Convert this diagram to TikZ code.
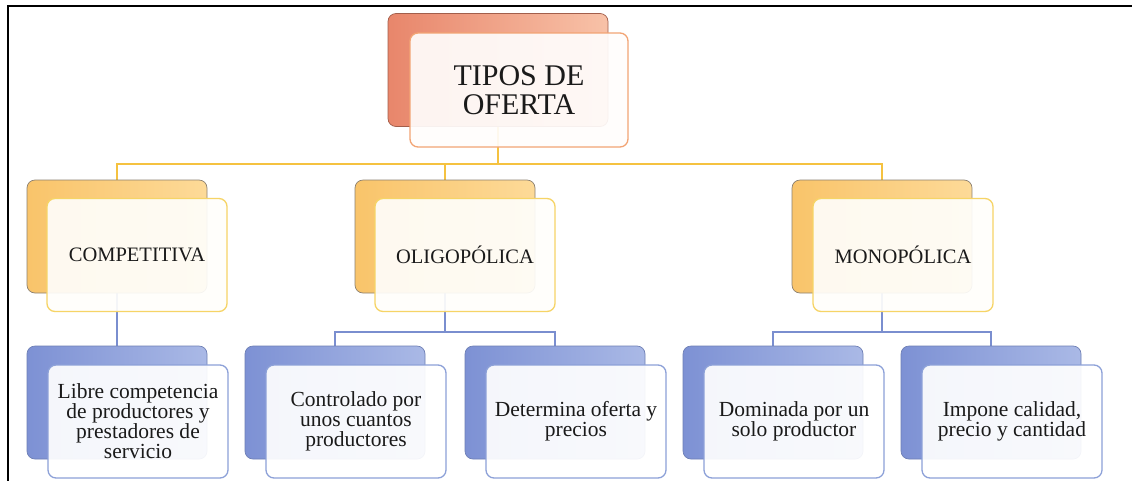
\documentclass[tikz,border=0pt]{standalone}
\usepackage{fontspec}
\setmainfont{Liberation Serif}
\pgfdeclarelayer{bg}
\pgfsetlayers{bg,main}
\definecolor{salmonD}{HTML}{E8866B}
\definecolor{salmonL}{HTML}{F8C2A8}
\definecolor{salmonLine}{HTML}{F2A474}
\definecolor{goldD}{HTML}{F9C46A}
\definecolor{goldL}{HTML}{FDDA98}
\definecolor{goldLine}{HTML}{F6D466}
\definecolor{busGold}{HTML}{F5C240}
\definecolor{blueD}{HTML}{7D91D4}
\definecolor{blueL}{HTML}{AAB9E6}
\definecolor{blueLine}{HTML}{8DA1D8}
\definecolor{busBlue}{HTML}{7A8ECF}
\definecolor{backEdge}{HTML}{8C8070}
\definecolor{backEdgeB}{HTML}{6E7FB5}
\definecolor{txt}{HTML}{1A1A1A}
\tikzset{
  backbox/.style={rectangle, rounded corners=8pt, minimum width=180pt, minimum height=113pt, inner sep=0pt, line width=0.7pt},
  frontbox/.style={rectangle, rounded corners=8pt, minimum width=180pt, minimum height=113pt, inner sep=0pt, line width=1.3pt, fill opacity=0.92, text opacity=1, align=center, text=txt},
  topback/.style={backbox, minimum width=220pt, draw=salmonD!70!black, left color=salmonD, right color=salmonL},
  topfront/.style={frontbox, minimum width=218pt, minimum height=114pt, draw=salmonLine, fill=white!97!salmonL, font=\fontsize{30}{29}\selectfont},
  midback/.style={backbox, draw=backEdge, left color=goldD, right color=goldL},
  midfront/.style={frontbox, draw=goldLine, fill=white!96!goldL, font=\fontsize{20.5}{21}\selectfont},
  lowback/.style={backbox, draw=backEdgeB, left color=blueD, right color=blueL},
  lowfront/.style={frontbox, draw=blueLine, fill=white, font=\fontsize{21.5}{20}\selectfont},
  busY/.style={draw=busGold, line width=1.4pt},
  busB/.style={draw=busBlue, line width=1.2pt}
}
\begin{document}
\begin{tikzpicture}[x=1pt,y=-1pt]
\useasboundingbox (0,0) rectangle (1132,480);
\begin{pgfonlayer}{bg}
\fill[white] (0,0) rectangle (1132,480);
\end{pgfonlayer}
\draw[line width=2pt, black] (8,481) -- (8,6) -- (1133,6);

% top
\node[topback] (topB) at (498,70) {};
\node[topfront] (topF) at (519,90) {TIPOS DE\\OFERTA};

% level 2
\node[midback] (compB) at (117,236.5) {};
\node[midfront] (compF) at (137,255) {COMPETITIVA};
\node[midback] (oligB) at (445,236.5) {};
\node[midfront] (oligF) at (465,255) {OLIGOPÓLICA};
\node[midback] (monoB) at (882,236.5) {};
\node[midfront] (monoF) at (903,255) {MONOPÓLICA};

% level 3
\node[lowback] (libB) at (117,402.5) {};
\node[lowfront] (libF) at (138,421.5) {Libre competencia\\de productores y\\prestadores de\\servicio};
\node[lowback] (conB) at (335,402.5) {};
\node[lowfront] (conF) at (356,421.5) {Controlado por\\unos cuantos\\productores};
\node[lowback] (detB) at (555,402.5) {};
\node[lowfront] (detF) at (576,421.5) {Determina oferta y\\precios};
\node[lowback] (domB) at (773,402.5) {};
\node[lowfront] (domF) at (794,421.5) {Dominada por un\\solo productor};
\node[lowback] (impB) at (991,402.5) {};
\node[lowfront] (impF) at (1012,421.5) {Impone calidad,\\precio y cantidad};

\coordinate (bus1) at (498,164);
\coordinate (bus2) at (445,332);
\coordinate (bus3) at (882,332);

\begin{pgfonlayer}{bg}
  \draw[busY] (topB.south) -- (bus1);
  \draw[busY] (compB.north) |- (bus1) -| (monoB.north);
  \draw[busY] (oligB.north) |- (bus1);
  \draw[busB] (compB.south) -- (libB.north);
  \draw[busB] (oligB.south) -- (bus2);
  \draw[busB] (conB.north) |- (bus2) -| (detB.north);
  \draw[busB] (monoB.south) -- (bus3);
  \draw[busB] (domB.north) |- (bus3) -| (impB.north);
\end{pgfonlayer}
\end{tikzpicture}
\end{document}
